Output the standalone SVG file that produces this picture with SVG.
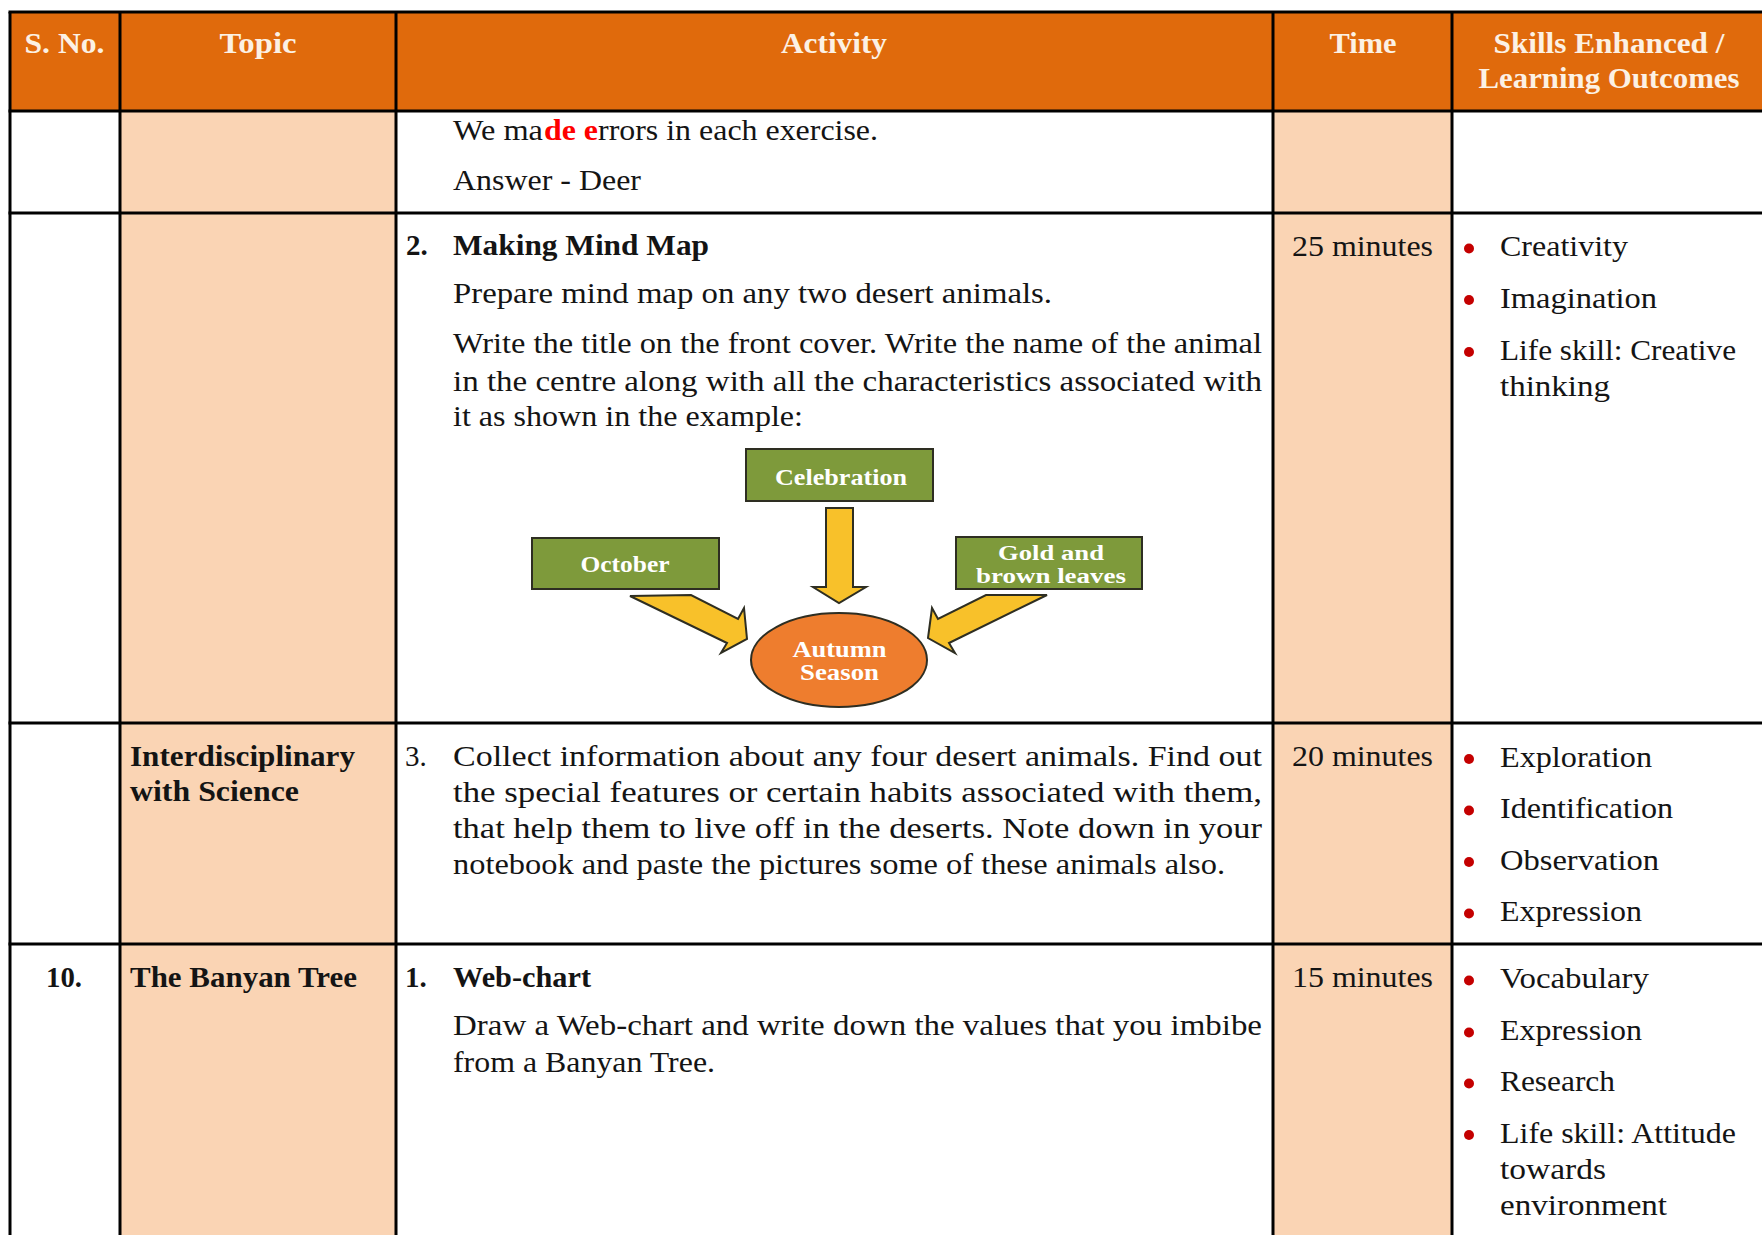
<svg xmlns="http://www.w3.org/2000/svg" width="1762" height="1235" viewBox="0 0 1762 1235">
<style>
.t{font-family:"Liberation Serif","DejaVu Serif",serif;font-size:29px;fill:#141414}
.b{font-weight:bold}
.h{font-family:"Liberation Serif","DejaVu Serif",serif;font-size:30px;font-weight:bold;fill:#FCF1E4;text-anchor:middle}
.m{font-family:"Liberation Serif","DejaVu Serif",serif;font-size:24px;font-weight:bold;fill:#FFFFFF;text-anchor:middle}
.m2{font-size:20.5px}
.red{fill:#FF0000;font-weight:bold}
.grid{stroke:#000;stroke-width:3;fill:none}
.box{fill:#7E9A3B;stroke:#2E2E22;stroke-width:2}
.arr{fill:#F8C12A;stroke:#2E2E22;stroke-width:2;stroke-linejoin:miter}
.dot{fill:#C40000}
</style>

<g id="table-fills">
<rect x="10" y="12" width="1752" height="99" fill="#E06A0C"/>
<rect x="120" y="111" width="276" height="1124" fill="#FAD4B4"/>
<rect x="1273" y="111" width="179" height="1124" fill="#FAD4B4"/>
</g>

<g id="table-grid" class="grid">
<line x1="8.5" y1="12" x2="1762" y2="12"/>
<line x1="8.5" y1="111" x2="1762" y2="111"/>
<line x1="8.5" y1="213" x2="1762" y2="213"/>
<line x1="8.5" y1="723" x2="1762" y2="723"/>
<line x1="8.5" y1="944" x2="1762" y2="944"/>
<line x1="10" y1="12" x2="10" y2="1235"/>
<line x1="120" y1="12" x2="120" y2="1235"/>
<line x1="396" y1="12" x2="396" y2="1235"/>
<line x1="1273" y1="12" x2="1273" y2="1235"/>
<line x1="1452" y1="12" x2="1452" y2="1235"/>
</g>

<g id="header">
<text class="h" x="64.5" y="53" textLength="80" lengthAdjust="spacingAndGlyphs">S. No.</text>
<text class="h" x="258" y="53" textLength="77" lengthAdjust="spacingAndGlyphs">Topic</text>
<text class="h" x="834" y="53" textLength="106" lengthAdjust="spacingAndGlyphs">Activity</text>
<text class="h" x="1363" y="53" textLength="67" lengthAdjust="spacingAndGlyphs">Time</text>
<text class="h" x="1609" y="53" textLength="231" lengthAdjust="spacingAndGlyphs">Skills Enhanced /</text>
<text class="h" x="1609" y="88" textLength="261" lengthAdjust="spacingAndGlyphs">Learning Outcomes</text>
</g>

<g id="row-1">
<text class="t" x="453" y="140" textLength="90" lengthAdjust="spacingAndGlyphs">We ma</text>
<text class="t red" x="544" y="140" textLength="54" lengthAdjust="spacingAndGlyphs">de e</text>
<text class="t" x="598" y="140" textLength="280" lengthAdjust="spacingAndGlyphs">rrors in each exercise.</text>
<text class="t" x="453" y="190" textLength="188" lengthAdjust="spacingAndGlyphs">Answer - Deer</text>
</g>

<g id="row-2">
<text class="t b" x="406" y="255">2.</text>
<text class="t b" x="453" y="255" textLength="256" lengthAdjust="spacingAndGlyphs">Making Mind Map</text>
<text class="t" x="453" y="303" textLength="599" lengthAdjust="spacingAndGlyphs">Prepare mind map on any two desert animals.</text>
<text class="t" x="453" y="353" textLength="809" lengthAdjust="spacingAndGlyphs">Write the title on the front cover. Write the name of the animal</text>
<text class="t" x="453" y="391" textLength="809" lengthAdjust="spacingAndGlyphs">in the centre along with all the characteristics associated with</text>
<text class="t" x="453" y="426" textLength="350" lengthAdjust="spacingAndGlyphs">it as shown in the example:</text>
<text class="t" x="1292" y="256" textLength="141" lengthAdjust="spacingAndGlyphs">25 minutes</text>
<circle class="dot" cx="1469" cy="248.5" r="5"/>
<text class="t" x="1500" y="256" textLength="128" lengthAdjust="spacingAndGlyphs">Creativity</text>
<circle class="dot" cx="1469" cy="300" r="5"/>
<text class="t" x="1500" y="308" textLength="157" lengthAdjust="spacingAndGlyphs">Imagination</text>
<circle class="dot" cx="1469" cy="352" r="5"/>
<text class="t" x="1500" y="360" textLength="236" lengthAdjust="spacingAndGlyphs">Life skill: Creative</text>
<text class="t" x="1500" y="396" textLength="110" lengthAdjust="spacingAndGlyphs">thinking</text>
</g>

<g id="connectors">
<polygon class="arr" points="826,508 853,508 853,587 866,587 839,603 813,587 826,587"/>
<polygon class="arr" points="630,596 691,595 738,619 744,608 747,639 721,653 727,643"/>
<polygon class="arr" points="986,595 1047,595 949,643 955,653 928,638 932,608 938,619"/>
</g>

<g id="node-celebration">
<rect class="box" x="746" y="449" width="187" height="52"/>
<text class="m" x="841" y="485" textLength="132" lengthAdjust="spacingAndGlyphs">Celebration</text>
</g>
<g id="node-october">
<rect class="box" x="532" y="538" width="187" height="51"/>
<text class="m" x="625" y="572" textLength="89" lengthAdjust="spacingAndGlyphs">October</text>
</g>
<g id="node-gold">
<rect class="box" x="956" y="537" width="186" height="52"/>
<text class="m m2" x="1051" y="560" textLength="106" lengthAdjust="spacingAndGlyphs">Gold and</text>
<text class="m m2" x="1051" y="583" textLength="150" lengthAdjust="spacingAndGlyphs">brown leaves</text>
</g>
<g id="node-autumn">
<ellipse cx="839" cy="660" rx="88" ry="47" fill="#EE7D2E" stroke="#2E2E22" stroke-width="2"/>
<text class="m" x="839.5" y="657" textLength="94" lengthAdjust="spacingAndGlyphs">Autumn</text>
<text class="m" x="839.5" y="680" textLength="79" lengthAdjust="spacingAndGlyphs">Season</text>
</g>

<g id="row-3">
<text class="t b" x="130" y="766" textLength="225" lengthAdjust="spacingAndGlyphs">Interdisciplinary</text>
<text class="t b" x="130" y="801" textLength="169" lengthAdjust="spacingAndGlyphs">with Science</text>
<text class="t" x="405" y="766">3.</text>
<text class="t" x="453" y="766" textLength="809" lengthAdjust="spacingAndGlyphs">Collect information about any four desert animals. Find out</text>
<text class="t" x="453" y="802" textLength="809" lengthAdjust="spacingAndGlyphs">the special features or certain habits associated with them,</text>
<text class="t" x="453" y="838" textLength="809" lengthAdjust="spacingAndGlyphs">that help them to live off in the deserts. Note down in your</text>
<text class="t" x="453" y="874" textLength="772" lengthAdjust="spacingAndGlyphs">notebook and paste the pictures some of these animals also.</text>
<text class="t" x="1292" y="766" textLength="141" lengthAdjust="spacingAndGlyphs">20 minutes</text>
<circle class="dot" cx="1469" cy="759" r="5"/>
<text class="t" x="1500" y="767" textLength="152" lengthAdjust="spacingAndGlyphs">Exploration</text>
<circle class="dot" cx="1469" cy="810.5" r="5"/>
<text class="t" x="1500" y="818" textLength="173" lengthAdjust="spacingAndGlyphs">Identification</text>
<circle class="dot" cx="1469" cy="862" r="5"/>
<text class="t" x="1500" y="870" textLength="159" lengthAdjust="spacingAndGlyphs">Observation</text>
<circle class="dot" cx="1469" cy="913.5" r="5"/>
<text class="t" x="1500" y="921" textLength="142" lengthAdjust="spacingAndGlyphs">Expression</text>
</g>

<g id="row-4">
<text class="t b" x="64" y="987" text-anchor="middle" textLength="36" lengthAdjust="spacingAndGlyphs">10.</text>
<text class="t b" x="130" y="987" textLength="227" lengthAdjust="spacingAndGlyphs">The Banyan Tree</text>
<text class="t b" x="405" y="987">1.</text>
<text class="t b" x="453" y="987" textLength="138" lengthAdjust="spacingAndGlyphs">Web-chart</text>
<text class="t" x="453" y="1035" textLength="809" lengthAdjust="spacingAndGlyphs">Draw a Web-chart and write down the values that you imbibe</text>
<text class="t" x="453" y="1072" textLength="262" lengthAdjust="spacingAndGlyphs">from a Banyan Tree.</text>
<text class="t" x="1292" y="987" textLength="141" lengthAdjust="spacingAndGlyphs">15 minutes</text>
<circle class="dot" cx="1469" cy="980.5" r="5"/>
<text class="t" x="1500" y="988" textLength="149" lengthAdjust="spacingAndGlyphs">Vocabulary</text>
<circle class="dot" cx="1469" cy="1032.5" r="5"/>
<text class="t" x="1500" y="1040" textLength="142" lengthAdjust="spacingAndGlyphs">Expression</text>
<circle class="dot" cx="1469" cy="1083.5" r="5"/>
<text class="t" x="1500" y="1091" textLength="115" lengthAdjust="spacingAndGlyphs">Research</text>
<circle class="dot" cx="1469" cy="1135" r="5"/>
<text class="t" x="1500" y="1143" textLength="236" lengthAdjust="spacingAndGlyphs">Life skill: Attitude</text>
<text class="t" x="1500" y="1179" textLength="106" lengthAdjust="spacingAndGlyphs">towards</text>
<text class="t" x="1500" y="1215" textLength="167" lengthAdjust="spacingAndGlyphs">environment</text>
</g>
</svg>
